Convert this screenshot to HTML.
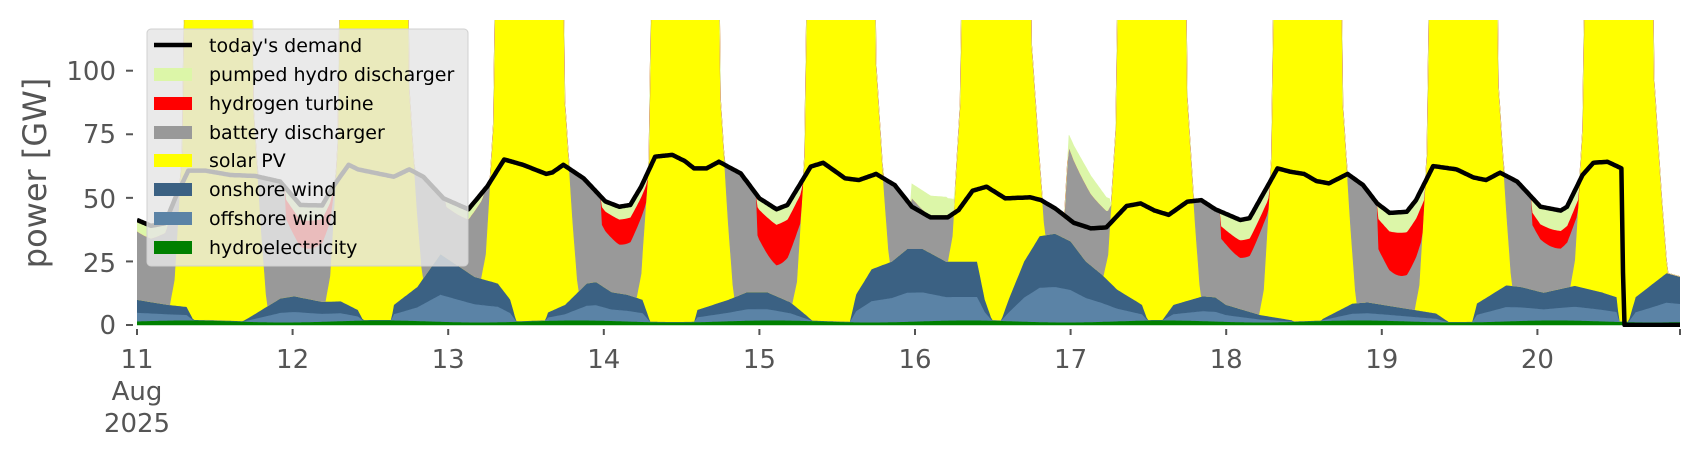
<!DOCTYPE html>
<html><head><meta charset="utf-8"><style>
html,body{margin:0;padding:0;background:#fff;}
svg{display:block;font-family:"DejaVu Sans","Liberation Sans",sans-serif;}
</style></head><body>
<svg id="s" width="1706" height="460" viewBox="0 0 1706 460" xmlns="http://www.w3.org/2000/svg">
<defs><clipPath id="c"><rect x="137" y="20" width="1543" height="307"/></clipPath></defs>
<g id="plot" clip-path="url(#c)"></g>
<g id="axes" fill="#555" stroke="none"></g>
<g id="leg">
<rect x="147" y="29" width="321" height="237" rx="4" fill="#e5e5e5" fill-opacity="0.82" stroke="#d0d0d0"/>
<line x1="154" y1="45" x2="192" y2="45" stroke="#000" stroke-width="4.5"/>
<rect x="154" y="68" width="38" height="13" fill="#dcf6a8"/>
<rect x="154" y="97" width="38" height="13" fill="#ff0000"/>
<rect x="154" y="126" width="38" height="13" fill="#999999"/>
<rect x="154" y="154" width="38" height="13" fill="#ffff00"/>
<rect x="154" y="183" width="38" height="13" fill="#3b6183"/>
<rect x="154" y="212" width="38" height="13" fill="#5b83a6"/>
<rect x="154" y="241" width="38" height="13" fill="#008000"/>
<g font-size="19" fill="#000">
<text x="209" y="52">today's demand</text>
<text x="209" y="81">pumped hydro discharger</text>
<text x="209" y="110">hydrogen turbine</text>
<text x="209" y="139">battery discharger</text>
<text x="209" y="167">solar PV</text>
<text x="209" y="196">onshore wind</text>
<text x="209" y="225">offshore wind</text>
<text x="209" y="254">hydroelectricity</text>
</g>
</g>
<g fill="#555" font-size="26">
<text x="116" y="334" text-anchor="end">0</text>
<text x="116" y="272" text-anchor="end">25</text>
<text x="116" y="208" text-anchor="end">50</text>
<text x="116" y="143" text-anchor="end">75</text>
<text x="116" y="80" text-anchor="end">100</text>
<text x="137" y="368" text-anchor="middle">11</text>
<text x="137" y="400" text-anchor="middle">Aug</text>
<text x="137" y="432" text-anchor="middle">2025</text>
<text x="292.6" y="368" text-anchor="middle">12</text>
<text x="448.2" y="368" text-anchor="middle">13</text>
<text x="603.8" y="368" text-anchor="middle">14</text>
<text x="759.4" y="368" text-anchor="middle">15</text>
<text x="915" y="368" text-anchor="middle">16</text>
<text x="1070.6" y="368" text-anchor="middle">17</text>
<text x="1226.2" y="368" text-anchor="middle">18</text>
<text x="1381.8" y="368" text-anchor="middle">19</text>
<text x="1537.4" y="368" text-anchor="middle">20</text>
<text transform="translate(46,173) rotate(-90)" text-anchor="middle" font-size="32">power [GW]</text>
</g>
</svg>
<script>
(function(){
var X0=137,DW=155.6,Y0=325,KY=2.543,TEND=9.92;
function X(t){return X0+t*DW;}
function Y(v){return Y0-v*KY;}
function interp(p,t){if(t<=p[0][0])return p[0][1];for(var i=1;i<p.length;i++){if(t<=p[i][0]){var a=p[i-1],b=p[i];return a[1]+(b[1]-a[1])*(t-a[0])/(b[0]-a[0]);}}return p[p.length-1][1];}
var wind=[[0,10],[0.2,8],[0.32,7.2],[0.37,1.3],[0.67,1.3],[0.72,3],[0.92,10.5],[1.01,11.4],[1.19,9.2],[1.31,9.4],[1.42,6],[1.46,1.3],[1.63,1.3],[1.65,8],[1.8,15],[1.95,28],[2.17,19],[2.32,16.4],[2.4,10],[2.44,1.3],[2.62,1.3],[2.64,5],[2.75,8],[2.89,16.4],[2.95,17],[3.05,13],[3.15,12],[3.25,10],[3.3,1.3],[3.58,1.3],[3.6,6],[3.7,8],[3.8,10],[3.92,13],[4.05,13],[4.2,9],[4.3,4],[4.35,1.3],[4.58,1.3],[4.62,12],[4.72,22],[4.85,25],[4.95,30],[5.05,30],[5.2,25],[5.4,25],[5.45,10],[5.5,1.3],[5.55,1.3],[5.6,10],[5.7,25],[5.8,35],[5.9,36],[6.0,33],[6.1,25],[6.2,20],[6.3,14],[6.46,8],[6.5,1.3],[6.58,1.3],[6.66,8],[6.85,11.4],[6.93,11],[7.0,8],[7.22,4],[7.42,2],[7.44,1.3],[7.6,1.3],[7.62,2.5],[7.81,8.5],[7.91,9],[8.16,6.5],[8.35,4.6],[8.43,1.3],[8.58,1.3],[8.61,8.5],[8.8,15.7],[8.9,15],[9.04,12.8],[9.24,15.5],[9.41,13],[9.51,11],[9.53,0.5],[9.58,0.5],[9.63,11],[9.83,20.5],[9.92,19]];
var dem=[[0,41.3],[0.09,39],[0.18,40],[0.25,50.5],[0.33,60.7],[0.44,60.7],[0.6,59],[0.76,58.6],[0.92,56.4],[1.05,47.2],[1.19,47],[1.26,54.4],[1.36,63],[1.42,61.2],[1.65,58.3],[1.75,61.2],[1.84,58.3],[1.97,49.8],[2.13,45.5],[2.25,54.4],[2.36,65.1],[2.48,63],[2.63,59.4],[2.67,60],[2.74,63],[2.87,57.7],[3.01,48.6],[3.1,46.5],[3.17,47.2],[3.24,54.4],[3.33,66.2],[3.44,66.9],[3.52,64.5],[3.58,61.6],[3.66,61.6],[3.74,64.2],[3.88,59.6],[4.0,49.8],[4.11,45.5],[4.18,47.2],[4.33,62.3],[4.41,63.8],[4.55,57.7],[4.64,57],[4.75,59.4],[4.87,55],[4.98,46.5],[5.1,42.3],[5.21,42.3],[5.28,45.2],[5.37,52.8],[5.46,54.4],[5.58,49.8],[5.74,50.2],[5.81,49.1],[5.9,45.9],[6.02,40.2],[6.13,38],[6.23,38.4],[6.36,46.8],[6.45,47.8],[6.54,45],[6.63,43.3],[6.75,48.5],[6.84,49.1],[6.93,45.5],[7.09,41.3],[7.15,42],[7.24,51.8],[7.33,61.6],[7.41,60.3],[7.5,59.4],[7.58,56.6],[7.66,55.7],[7.78,59.4],[7.88,55],[7.97,47.8],[8.05,44.1],[8.16,44.5],[8.22,49.1],[8.33,62.5],[8.48,61.2],[8.59,58],[8.67,57],[8.76,59.9],[8.87,56.4],[9.02,46.5],[9.15,45],[9.19,46.5],[9.29,59],[9.36,63.8],[9.45,64.2],[9.54,61.6],[9.555,0],[9.92,0]];
var sol=[[0,0],[0.21,0],[0.24,10],[0.29,62],[0.32,200],[0.73,200],[0.75,80],[0.80,30],[0.83,5],[0.84,0],[1,0]];
var extra=[[4.97,0],[4.98,9],[5.2,8],[5.28,4],[5.3,0],[5.96,0],[5.99,33],[6.25,10],[6.28,0]];
var win=[[-0.05,0.22,0,5],[0.96,1.27,11,6],[1.99,2.24,0,4],[2.99,3.3,10,5],[3.99,4.29,16,6],[4.98,5.28,0,8],[5.99,6.27,0,7],[6.97,7.3,7,8],[7.98,8.32,17,8],[8.97,9.31,7,8]];
function bump(t,i){var w=win[i];if(t<w[0]||t>w[1])return 0;var s=(t-w[0])/(w[1]-w[0]);var f=s<0.9?(0.7+0.3*Math.sin(Math.PI*s/0.9)):(1-s)/0.1*0.7;return f;}
var N=Math.round(TEND/0.01),L=[[],[],[],[],[],[],[],[]],ts=[];
for(var k=0;k<=N;k++){var t=k*0.01;ts.push(t);
 var hy=1.5+0.4*Math.sin(t*5);var wt=Math.max(interp(wind,t),hy+0.2);
 var off=hy+(wt-hy)*0.4;
 var d=Math.floor(t);var s=interp(sol,t-d);
 var D=interp(dem,t)+interp(extra,t);
 var ph=0,h2=0;for(var i=0;i<win.length;i++){var f=bump(t,i);if(f>0){ph=win[i][3]*f;h2=win[i][2]*f;}}
 var av=Math.max(0,D-wt-s);var php=Math.min(ph,av);var h2p=Math.min(h2,av-php);var b=av-php-h2p;
 var c=[0,hy,off,wt,wt+s,wt+s+b,wt+s+b+h2p,wt+s+b+h2p+php];
 for(var j=0;j<8;j++)L[j].push(c[j]);}
var cols=["#008000","#5b83a6","#3b6183","#ffff00","#999999","#ff0000","#dcf6a8"];
var g=document.getElementById("plot"),h="";
for(var j=0;j<7;j++){var p="M";for(var k=0;k<=N;k++)p+=X(ts[k]).toFixed(1)+","+Y(L[j+1][k]).toFixed(1)+" L";for(var k=N;k>=0;k--)p+=X(ts[k]).toFixed(1)+","+Y(L[j][k]).toFixed(1)+(k?" L":"Z");
 h+='<path d="'+p+'" fill="'+cols[j]+'" stroke="'+cols[j]+'" stroke-width="0.6"/>';}
var dp="M";for(var k=0;k<=N;k++)dp+=X(ts[k]).toFixed(1)+","+Y(interp(dem,ts[k])).toFixed(1)+(k<N?" L":"");
h+='<path d="'+dp+'" fill="none" stroke="#000" stroke-width="4.5" stroke-linejoin="round"/>';
g.innerHTML=h;
var a=document.getElementById("axes"),ah="";
for(var k=0;k<=9;k++)ah+='<rect x="'+(X(k)-1)+'" y="329" width="2" height="6"/>';
ah+='<rect x="1679" y="329" width="2" height="6"/>';
[0,25,50,75,100].forEach(function(v){ah+='<rect x="126" y="'+(Y(v)-1)+'" width="7" height="2"/>';});
a.innerHTML=ah;
})();
</script>
</body></html>
